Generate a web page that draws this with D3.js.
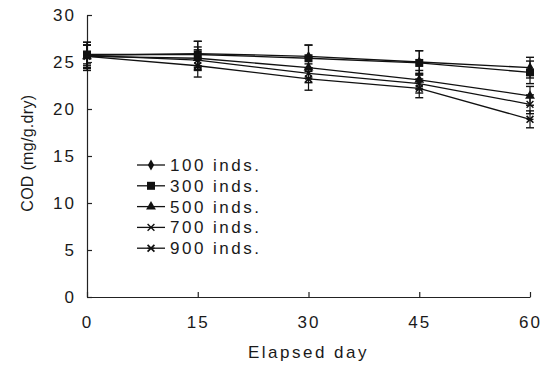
<!DOCTYPE html>
<html>
<head>
<meta charset="utf-8">
<script src="https://cdn.jsdelivr.net/npm/d3@7"></script>
<style>
  body { margin: 0; background: #fff; }
  text { font-family: "Liberation Sans", Arial, sans-serif; fill: #1a1a1a; }
</style>
</head>
<body>
<div id="container"></div>
<script>
// elapsed days and series
const days = [0, 15, 30, 45, 60];
const seriesNames = ["100 inds.", "300 inds.", "500 inds.", "700 inds.", "900 inds."];
const markerTypes = ["diamond", "square", "triangle", "cross", "asterisk"];

const cod100 = [25.7, 25.9, 25.6, 25.0, 24.4];
const cod300 = [25.8, 25.8, 25.4, 24.9, 23.9];
const cod500 = [25.6, 25.4, 24.4, 23.1, 21.4];
const cod700 = [25.7, 25.2, 23.8, 22.7, 20.5];
const cod900 = [25.6, 24.6, 23.2, 22.2, 18.9];

const err100 = [1.4, 1.3, 1.2, 1.2, 1.1];
const err300 = [1.0, 1.4, 1.4, 1.3, 1.2];
const err500 = [1.5, 1.2, 1.1, 1.0, 1.0];
const err700 = [1.1, 1.1, 1.0, 1.0, 1.0];
const err900 = [1.2, 1.2, 1.2, 1.0, 0.9];

const yTicks = [0, 5, 10, 15, 20, 25, 30];

const allValues = [cod100, cod300, cod500, cod700, cod900];
const allErrors = [err100, err300, err500, err700, err900];

const width = 547, height = 365;
const margin = {left: 87, right: 17, top: 15, bottom: 68};

const svg = d3.select("#container").append("svg")
    .attr("width", width)
    .attr("height", height);

const x = d3.scaleLinear().domain([0, 60]).range([margin.left, width - margin.right]);
const y = d3.scaleLinear().domain([0, 30]).range([height - margin.bottom, margin.top]);

// axes, ticks pointing inward
svg.append("g")
    .attr("transform", `translate(0,${y(0)})`)
    .call(d3.axisBottom(x).tickValues(days).tickSizeInner(-5).tickSizeOuter(0).tickPadding(16))
    .call(g => g.selectAll("text").attr("font-size", 17).attr("letter-spacing", 2).attr("dy", "0.9em"));

svg.append("g")
    .attr("transform", `translate(${x(0)},0)`)
    .call(d3.axisLeft(y).tickValues(yTicks).tickSizeInner(-5).tickSizeOuter(0).tickPadding(11))
    .call(g => g.selectAll("text").attr("font-size", 17).attr("letter-spacing", 2));

svg.selectAll(".domain, .tick line").attr("stroke", "#222").attr("stroke-width", 1.2);

svg.append("text")
    .attr("x", x(30))
    .attr("y", 358)
    .attr("text-anchor", "middle")
    .attr("font-size", 17)
    .attr("letter-spacing", 2.5)
    .text("Elapsed day");

svg.append("text")
    .attr("transform", `translate(33,${y(15.3)}) rotate(-90)`)
    .attr("text-anchor", "middle")
    .attr("font-size", 16)
    .attr("letter-spacing", 0.3)
    .text("COD (mg/g.dry)");

function drawMarker(g, type, cx, cy) {
    if (type === "diamond") {
        g.append("path").attr("d", d3.symbol(d3.symbolDiamond, 34)())
            .attr("transform", `translate(${cx},${cy})`).attr("fill", "#111");
    } else if (type === "square") {
        g.append("rect").attr("x", cx - 4).attr("y", cy - 4)
            .attr("width", 8).attr("height", 8).attr("fill", "#111");
    } else if (type === "triangle") {
        g.append("path").attr("d", d3.symbol(d3.symbolTriangle, 42)())
            .attr("transform", `translate(${cx},${cy})`).attr("fill", "#111");
    } else if (type === "cross") {
        g.append("path").attr("d", d3.symbol(d3.symbolX, 32)())
            .attr("transform", `translate(${cx},${cy})`)
            .attr("fill", "none").attr("stroke", "#111").attr("stroke-width", 1.4);
    } else {
        g.append("path").attr("d", d3.symbol(d3.symbolX, 32)())
            .attr("transform", `translate(${cx},${cy})`)
            .attr("fill", "none").attr("stroke", "#111").attr("stroke-width", 1.7);
        g.append("line").attr("x1", cx - 3.5).attr("x2", cx + 3.5).attr("y1", cy).attr("y2", cy)
            .attr("stroke", "#111").attr("stroke-width", 1.4);
    }
}

const line = d3.line().x((d, i) => x(days[i])).y(d => y(d));

allValues.forEach((vals, s) => {
    const g = svg.append("g");
    // error bars
    vals.forEach((v, i) => {
        const e = allErrors[s][i];
        const cx = x(days[i]);
        g.append("line").attr("x1", cx).attr("x2", cx)
            .attr("y1", y(v - e)).attr("y2", y(v + e))
            .attr("stroke", "#111").attr("stroke-width", 1.2);
        [v - e, v + e].forEach(c => {
            g.append("line").attr("x1", cx - 4).attr("x2", cx + 4)
                .attr("y1", y(c)).attr("y2", y(c))
                .attr("stroke", "#111").attr("stroke-width", 1.4);
        });
    });
    g.append("path")
        .attr("d", line(vals))
        .attr("fill", "none")
        .attr("stroke", "#111")
        .attr("stroke-width", 1.3);
    vals.forEach((v, i) => drawMarker(g, markerTypes[s], x(days[i]), y(v)));
});

// legend
const legend = svg.append("g");
seriesNames.forEach((name, i) => {
    const ly = 165 + i * 20.8;
    legend.append("line").attr("x1", 137).attr("x2", 165).attr("y1", ly).attr("y2", ly)
        .attr("stroke", "#111").attr("stroke-width", 1.3);
    drawMarker(legend, markerTypes[i], 151, ly);
    legend.append("text")
        .attr("x", 170)
        .attr("y", ly)
        .attr("dy", "0.35em")
        .attr("font-size", 17)
        .attr("letter-spacing", 2.5)
        .text(name);
});
</script>
</body>
</html>
